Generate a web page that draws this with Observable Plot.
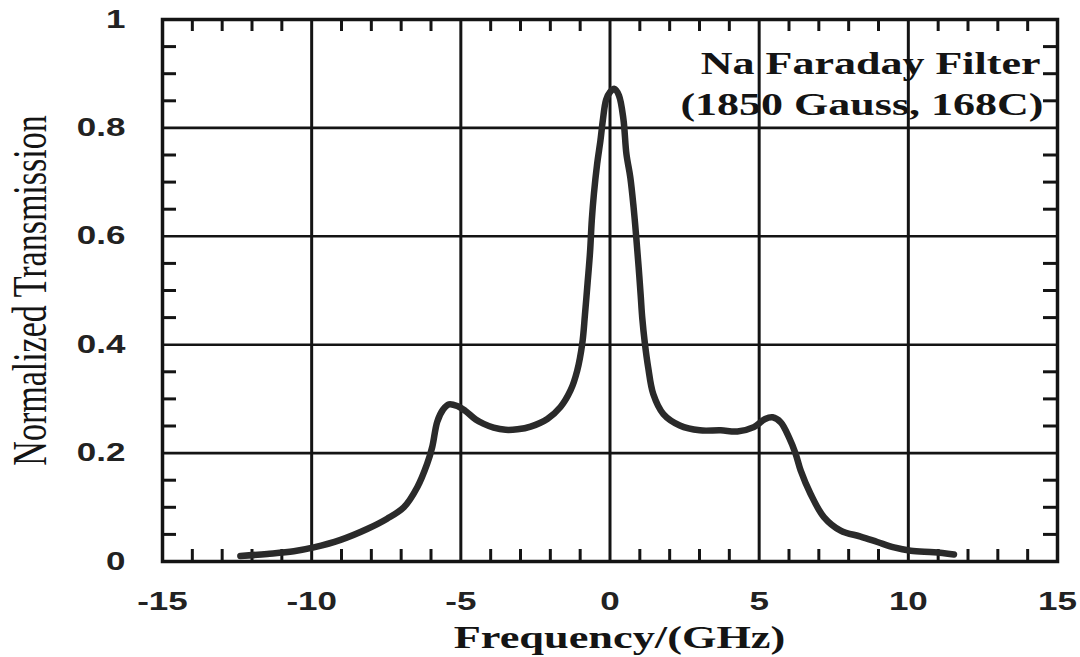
<!DOCTYPE html>
<html><head><meta charset="utf-8">
<script src="https://cdn.jsdelivr.net/npm/d3@7"></script>
<script src="https://cdn.jsdelivr.net/npm/@observablehq/plot@0.6"></script>
<style>
html,body{margin:0;padding:0;background:#fff;}
#chart svg{display:block;}
</style></head><body><div id="chart"></div>
<script>
// Data
const freq = [-12.39,-11.49,-10.60,-9.93,-9.03,-8.14,-7.47,-6.91,-6.46,-6.13,-5.96,-5.79,-5.60,-5.40,-5.12,-4.85,-4.50,-4.23,-3.90,-3.50,-3.10,-2.66,-2.10,-1.66,-1.32,-1.10,-0.93,-0.84,-0.75,-0.67,-0.61,-0.54,-0.43,-0.32,-0.24,-0.13,0.00,0.15,0.30,0.45,0.55,0.68,0.79,0.88,0.96,1.03,1.08,1.17,1.28,1.45,1.79,2.34,3.01,3.71,4.27,4.82,5.20,5.45,5.72,6.00,6.22,6.39,6.72,7.17,7.73,8.40,8.96,9.52,10.08,10.86,11.53];
const trans = [0.010,0.014,0.019,0.026,0.040,0.060,0.079,0.100,0.137,0.180,0.211,0.258,0.280,0.290,0.287,0.278,0.262,0.254,0.247,0.243,0.244,0.249,0.263,0.285,0.316,0.352,0.402,0.455,0.515,0.570,0.630,0.678,0.734,0.777,0.814,0.852,0.866,0.872,0.860,0.816,0.752,0.709,0.654,0.598,0.543,0.490,0.450,0.402,0.358,0.309,0.272,0.251,0.242,0.242,0.240,0.248,0.263,0.266,0.257,0.229,0.199,0.168,0.125,0.082,0.057,0.046,0.036,0.026,0.020,0.017,0.013];
const xTicks = [-15,-10,-5,0,5,10,15];
const xTickLabels = ["-15","-10","-5","0","5","10","15"];
const yTicks = [0,0.2,0.4,0.6,0.8,1];
const yTickLabels = ["0","0.2","0.4","0.6","0.8","1"];
const xGrid = [-10,-5,0,5,10];
const yGrid = [0.2,0.4,0.6,0.8];
const xMinor = [-14,-13,-12,-11,-9,-8,-7,-6,-4,-3,-2,-1,1,2,3,4,6,7,8,9,11,12,13,14];
const yMinor = [0.05,0.1,0.15,0.25,0.3,0.35,0.45,0.5,0.55,0.65,0.7,0.75,0.85,0.9,0.95];
const xTitle = "Frequency/(GHz)";
const yTitle = "Normalized Transmission";
const noteLine1 = "Na Faraday Filter";
const noteLine2 = "(1850 Gauss, 168C)";

const ink = "#141414";
const serif = "'Liberation Serif', 'Times New Roman', serif";
const sans = "'Liberation Sans', Arial, sans-serif";

const chart = Plot.plot({
  width: 1080, height: 657,
  marginLeft: 162, marginRight: 23, marginTop: 19, marginBottom: 96,
  style: {background: "#fff", color: ink, fontFamily: sans},
  x: {domain: [-15, 15]},
  y: {domain: [0, 1]},
  marks: [
    Plot.ruleX(xGrid, {stroke: ink, strokeWidth: 3}),
    Plot.ruleY(yGrid, {stroke: ink, strokeWidth: 2.6}),
    Plot.tickX(xMinor, {x: d => d, insetTop: 530, stroke: ink, strokeWidth: 3}),
    Plot.tickX(xMinor, {x: d => d, insetBottom: 530, stroke: ink, strokeWidth: 3}),
    Plot.tickY(yMinor, {y: d => d, insetRight: 881, stroke: ink, strokeWidth: 3}),
    Plot.tickY(yMinor, {y: d => d, insetLeft: 881, stroke: ink, strokeWidth: 3}),
    Plot.line(freq, {x: freq, y: trans, stroke: "#2a2a2a", strokeWidth: 6.5, curve: "catmull-rom", strokeLinejoin: "round", strokeLinecap: "round"}),
    Plot.frame({stroke: ink, strokeWidth: 3.5}),
    Plot.axisX(xTicks, {tickSize: 0, tickPadding: 31, tickFormat: d => xTickLabels[xTicks.indexOf(d)], fontSize: 25, fontWeight: "bold", fontFamily: sans, fill: "#222"}),
    Plot.axisY(yTicks, {tickSize: 0, tickPadding: 37, tickFormat: d => yTickLabels[yTicks.indexOf(d)], fontSize: 25, fontWeight: "bold", fontFamily: sans, fill: "#222"}),
    Plot.text([xTitle], {text: d => d, frameAnchor: "bottom", dx: 9.5, dy: 86, lineAnchor: "bottom", fontFamily: serif, fontWeight: "bold", fontSize: 31, fill: ink}),
    Plot.text([yTitle], {text: d => d, frameAnchor: "left", textAnchor: "middle", dx: -117, rotate: -90, lineAnchor: "bottom", fontFamily: serif, fontSize: 34, fill: ink}),
    Plot.text([noteLine1], {text: d => d, frameAnchor: "top-right", dx: -17, dy: 54, textAnchor: "end", lineAnchor: "bottom", fontFamily: serif, fontWeight: "bold", fontSize: 31, fill: ink}),
    Plot.text([noteLine2], {text: d => d, frameAnchor: "top-right", dx: -14, dy: 95, textAnchor: "end", lineAnchor: "bottom", fontFamily: serif, fontWeight: "bold", fontSize: 31, fill: ink})
  ]
});
document.getElementById("chart").append(chart);

// The reference glyphs are stretched horizontally; scale each text about its anchor
function stretch(el, sx, sy) {
  const t = el.getAttribute("transform") || "";
  el.setAttribute("transform", (t ? t + " " : "") + `scale(${sx},${sy})`);
}
chart.querySelectorAll('g[aria-label="x-axis tick label"] text, g[aria-label="y-axis tick label"] text')
  .forEach(el => stretch(el, 1.4, 1));
chart.querySelectorAll('g[aria-label="text"] text').forEach(el => {
  const s = el.textContent;
  if (s === xTitle) stretch(el, 1.43, 1);
  else if (s === yTitle) stretch(el, 1, 1.42);
  else if (s === noteLine1 || s === noteLine2) stretch(el, 1.42, 1);
});
</script>
</body></html>
